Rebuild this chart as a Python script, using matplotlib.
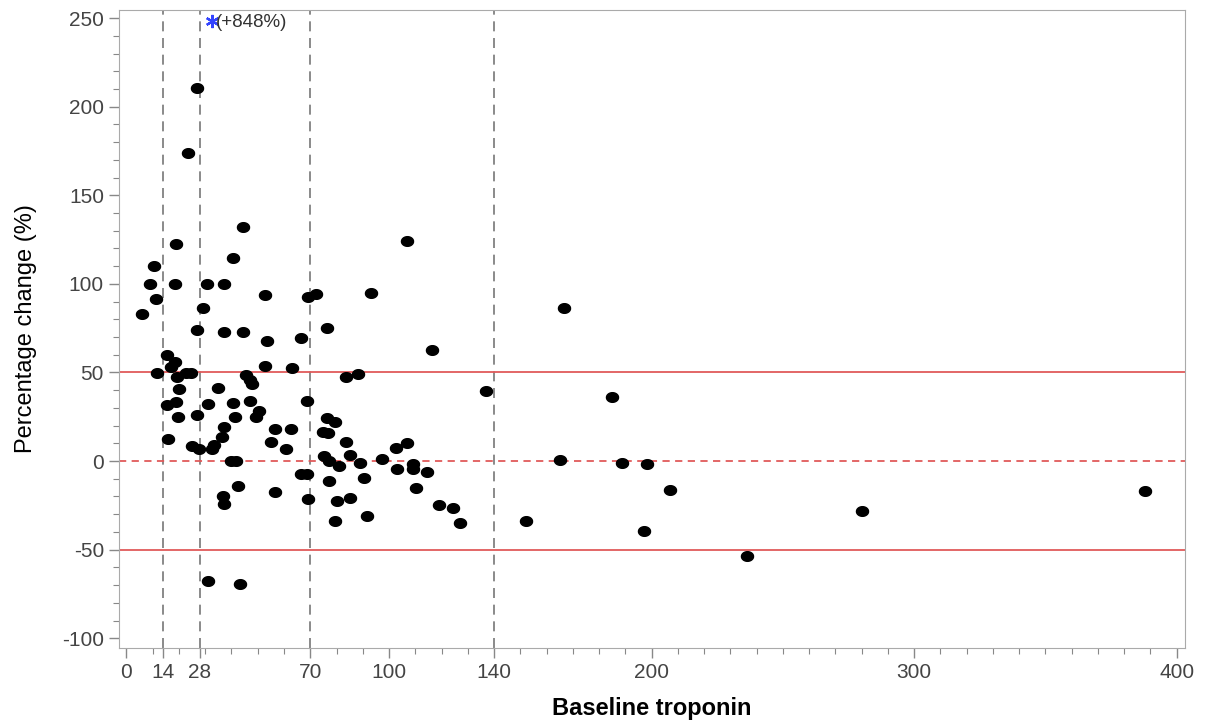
import matplotlib
matplotlib.use('Agg')
import matplotlib.pyplot as plt
import numpy as np
from matplotlib.path import Path
from matplotlib.ticker import MultipleLocator

# Baseline troponin vs percentage change
baseline = [6.1, 8.8, 10.3, 11.4, 11.8, 15.6, 16.0, 15.6, 17.1, 18.3,
            18.7, 18.3, 18.7, 19.4, 20.2, 19.8, 22.5, 24.4, 23.6, 25.1,
            27.0, 26.7, 27.0, 27.8, 29.3, 30.5, 31.2, 30.9, 32.4, 33.5,
            34.7, 36.2, 36.6, 37.3, 37.3, 37.3, 37.3, 40.4, 40.4, 40.0,
            41.9, 41.5, 42.3, 43.4, 44.2, 44.2, 45.7, 46.9, 48.0, 47.2,
            49.5, 50.3, 52.6, 52.6, 53.7, 55.2, 56.4, 56.4, 60.6, 62.5,
            63.2, 66.3, 66.3, 68.6, 68.6, 69.0, 69.0, 72.0, 74.7, 76.6,
            75.4, 76.2, 76.2, 77.0, 77.3, 79.6, 80.0, 79.6, 81.1, 83.8,
            83.8, 85.0, 85.3, 88.0, 89.1, 90.3, 91.8, 93.3, 97.5, 102.5,
            102.9, 107.0, 107.0, 109.0, 109.3, 110.1, 114.3, 116.2, 119.2, 124.2,
            127.2, 137.1, 152.0, 165.3, 166.5, 184.8, 188.6, 197.0, 198.1, 207.2,
            236.2, 280.0, 387.8]
pct_change = [83.0, 100.0, 110.0, 91.4, 49.7, 59.8, 12.4, 31.6, 53.0, 55.9,
              122.5, 100.0, 33.3, 47.4, 40.6, 24.8, 49.7, 49.7, 173.8, 8.5,
              73.9, 26.0, 210.5, 6.8, 86.3, 100.0, 32.2, -67.7, 6.8, 9.0,
              41.2, 13.5, -19.8, 100.0, 72.8, 19.2, -24.3, 114.6, 32.7, 0.0,
              0.0, 24.8, -14.1, -69.4, 72.8, 132.1, 48.5, 45.7, 43.5, 33.9,
              24.8, 28.2, 93.7, 53.6, 67.7, 10.7, 18.1, -17.5, 6.8, 18.1,
              52.5, 69.4, -7.3, -7.3, 33.9, -21.4, 92.6, 94.2, 16.4, 15.8,
              2.8, 75.1, 24.3, -11.3, 0.0, 22.0, -22.6, -33.9, -2.8, 47.4,
              10.7, -20.9, 3.4, 49.1, -1.1, -9.6, -31.0, 94.8, 1.1, 7.3,
              -4.5, 124.2, 10.2, -1.7, -4.5, -15.2, -6.2, 62.6, -24.8, -26.5,
              -35.0, 39.5, -33.9, 0.6, 86.3, 36.1, -1.1, -39.5, -1.7, -16.4,
              -53.6, -28.2, -16.9]

# off-scale outlier shown at the top
outlier_x = 32.4
outlier_label = '(+848%)'

cutoffs = [14, 28, 70, 140]
xtick_vals = [0, 14, 28, 70, 100, 140, 200, 300, 400]

plt.rcParams['font.family'] = ['Liberation Sans', 'DejaVu Sans']
plt.rcParams['axes.unicode_minus'] = False

# slightly flattened dot like the SAS marker
t = np.linspace(0, 2 * np.pi, 40)
dot = Path(np.column_stack([np.cos(t), 0.8 * np.sin(t)]))

fig = plt.figure(figsize=(12.1, 7.24), dpi=100)
ax = fig.add_axes([0.098, 0.105, 0.881, 0.881])

for c in cutoffs:
    ax.axvline(c, color='#777777', lw=1.2, ls=(0, (6, 4)), zorder=1)
ax.axhline(50, color='#e05a5a', lw=1.3, zorder=1)
ax.axhline(-50, color='#e05a5a', lw=1.3, zorder=1)
ax.axhline(0, color='#e05a5a', lw=1.3, ls=(0, (4, 3)), zorder=1)

ax.plot(baseline, pct_change, marker=dot, color='black', ms=8.7, ls='none', zorder=3)

ax.plot([outlier_x], [248.5], marker=(6, 2, 0), color='#3344ff', ms=9.5, mew=1.6,
        ls='none', zorder=3)
ax.text(outlier_x + 1.8, 247.5, outlier_label, fontsize=13.5, color='#333333',
        va='center', ha='left')

ax.set_xlim(-3, 403)
ax.set_ylim(-105.5, 254.5)
ax.set_xticks(xtick_vals)
ax.set_xticklabels([str(v) for v in xtick_vals])
ax.xaxis.set_minor_locator(MultipleLocator(10))
ax.set_yticks([-100, -50, 0, 50, 100, 150, 200, 250])
ax.yaxis.set_minor_locator(MultipleLocator(10))

ax.tick_params(axis='both', which='major', labelsize=15, colors='#888888',
               labelcolor='#444444', length=7, width=1)
ax.tick_params(axis='both', which='minor', colors='#888888', length=4, width=0.8)
for s in ax.spines.values():
    s.set_color('#aaaaaa')

ax.set_xlabel('Baseline troponin', fontsize=17, fontweight='bold', labelpad=11)
ax.set_ylabel('Percentage change (%)', fontsize=17, labelpad=18)

fig.savefig('out.png', dpi=100)
